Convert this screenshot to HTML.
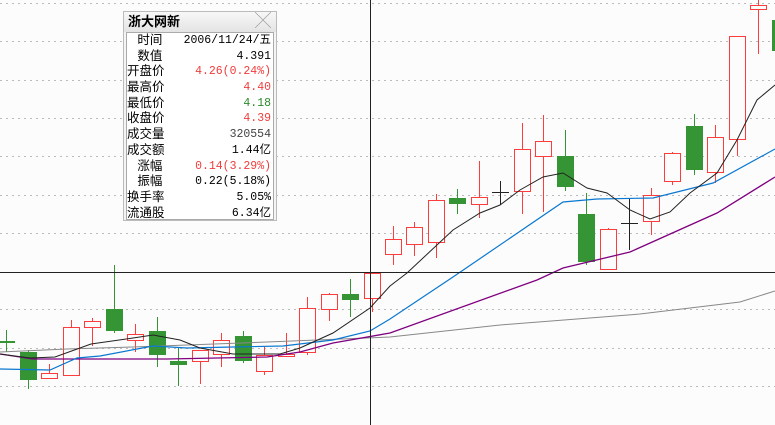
<!DOCTYPE html>
<html><head><meta charset="utf-8"><style>
body{margin:0;background:#fcfcfc;}
#w{position:relative;width:775px;height:425px;overflow:hidden;font-family:"Liberation Sans","Noto Sans CJK SC",sans-serif;}
#box{position:absolute;left:123px;top:11px;width:152px;height:208px;background:#f4f4f4;border:1px solid #bbb;}
#tt{height:20px;background:linear-gradient(#f8f8f8,#e4e4e4);font-weight:bold;font-size:13px;line-height:20px;padding-left:4px;color:#000;position:relative}
#tt span{position:absolute;right:5px;top:0;color:#999;font-weight:normal;font-size:16px}
#bd{position:absolute;left:2px;top:20px;width:146px;height:186px;background:#fff;border:1px solid #aaa;font-size:12.5px;}
.r{height:15.7px;line-height:15.7px;position:relative;white-space:nowrap}
.r b{font-weight:normal;position:absolute;left:0}
.r i{font-style:normal;position:absolute;right:2px;font-family:"Liberation Mono","Noto Sans CJK SC",monospace;font-size:11.5px}
.red{color:#f03c3c}.grn{color:#2a8a2a}
</style></head><body><div id="w">
<svg width="775" height="425" style="position:absolute;left:0;top:0">
<g stroke="#bbb" stroke-dasharray="2,4" stroke-width="1">
<line x1="0" x2="775" y1="3.5" y2="3.5"/><line x1="0" x2="775" y1="41.5" y2="41.5"/><line x1="0" x2="775" y1="80.5" y2="80.5"/><line x1="0" x2="775" y1="118.5" y2="118.5"/><line x1="0" x2="775" y1="156.5" y2="156.5"/><line x1="0" x2="775" y1="195.5" y2="195.5"/><line x1="0" x2="775" y1="233.5" y2="233.5"/><line x1="0" x2="775" y1="309.5" y2="309.5"/><line x1="0" x2="775" y1="348.5" y2="348.5"/><line x1="0" x2="775" y1="386.5" y2="386.5"/>
</g>
<g id="c"></g>
<g fill="none" stroke-width="1">
<polyline stroke="#888" points="0,352 67,349 133,347 267,342 390,337 500,325 640,314 740,302 775,291"/>
<polyline stroke="#800080" stroke-width="1.3" points="0,354 33,359 167,359 267,357 300,352 333,343 390,333 537,280 563,268 630,252 717,213 775,177"/>
<polyline stroke="#0a78d0" stroke-width="1.2" points="0,369 50,370 77,358 100,356 153,346 187,348 233,347 283,346 333,340 370,331 390,319 453,277 563,202 597,199 653,198 713,183 775,149"/>
<polyline stroke="#222" points="0,354 30,358 55,357 91,344 133,338 153,335 180,340 200,348 233,354 280,354 300,348 333,333 370,308 390,286 407,273 453,230 480,213 500,205 520,190 543,177 563,173 587,188 607,193 630,210 650,219 670,212 690,193 717,173 737,140 757,100 775,85"/>
</g>
<line x1="0" x2="775" y1="272.5" y2="272.5" stroke="#222"/>
<line x1="370.5" x2="370.5" y1="0" y2="425" stroke="#222"/>
</svg>
<div id="box"><div id="tt">浙大网新<span>╳</span></div>
<div id="bd">
<div class="r"><b>&nbsp;&nbsp;&nbsp;时间</b><i>2006/11/24/五</i></div>
<div class="r"><b>&nbsp;&nbsp;&nbsp;数值</b><i>4.391</i></div>
<div class="r"><b>开盘价</b><i class="red">4.26(0.24%)</i></div>
<div class="r"><b>最高价</b><i class="red">4.40</i></div>
<div class="r"><b>最低价</b><i class="grn">4.18</i></div>
<div class="r"><b>收盘价</b><i class="red">4.39</i></div>
<div class="r"><b>成交量</b><i style="color:#444">320554</i></div>
<div class="r"><b>成交额</b><i>1.44亿</i></div>
<div class="r"><b>&nbsp;&nbsp;&nbsp;涨幅</b><i class="red">0.14(3.29%)</i></div>
<div class="r"><b>&nbsp;&nbsp;&nbsp;振幅</b><i>0.22(5.18%)</i></div>
<div class="r"><b>换手率</b><i>5.05%</i></div>
<div class="r"><b>流通股</b><i>6.34亿</i></div>
</div></div>
</div>
<script>
var d=[[6,'g',341,343,330,352],[27.5,'g',352,380,350,389],[48.5,'r',373,378,364,378],[70.5,'r',327,375,320,375],[91.5,'r',321,327,318,346],[113.5,'g',309,331,265,333],[135,'r',334,340,324,352],[156.5,'g',331,355,317,367],[178,'g',361,365,348,386],[199.5,'r',350,361,350,384],[221,'r',340,354,333,367],[242.5,'g',336,361,331,363],[264,'r',355,371,347,375],[285.5,'r',354,356,333,357],[307,'r',308,352,297,355],[328.5,'r',294,309,293,321],[350,'g',294,300,279,317],[371.5,'r',273,298,272,312],[392.5,'r',239,254,226,265],[414,'r',227,244,222,256],[435.5,'r',200,242,194,258],[457,'g',198,204,189,214],[478.5,'r',197,204,161,218],[500,'k',192,192,181,205],[521.5,'r',149,191,123,214],[543,'r',141,156,115,212],[564.5,'g',156,187,130,191],[586,'g',214,262,193,265],[607.5,'r',229,269,228,269],[629,'k',223,223,199,250],[650.5,'r',195,221,188,235],[672,'r',153,181,152,185],[693.5,'g',126,170,114,175],[715,'r',137,172,125,183],[736.5,'r',36,139,36,156],[758,'r',5,9,0,54],[780,'g',20,51,10,55]];
var s='';d.forEach(function(c){var x=Math.round(c[0]),col=c[1]=='r'?'#ff3c3c':c[1]=='g'?'#359535':'#222';
s+='<line x1="'+(x+.5)+'" x2="'+(x+.5)+'" y1="'+c[4]+'" y2="'+c[5]+'" stroke="'+col+'"/>';
if(c[1]=='k'){s+='<line x1="'+(x-8)+'" x2="'+(x+9)+'" y1="'+(c[2]+.5)+'" y2="'+(c[2]+.5)+'" stroke="#222"/>';}
else if(c[1]=='r'){s+='<rect x="'+(x-7.5)+'" y="'+(c[2]+.5)+'" width="16" height="'+Math.max(1,c[3]-c[2])+'" fill="#fcfcfc" stroke="'+col+'"/>';}
else{s+='<rect x="'+(x-8)+'" y="'+c[2]+'" width="17" height="'+Math.max(2,c[3]-c[2])+'" fill="'+col+'"/>';}});
document.getElementById('c').innerHTML=s;
</script>
</body></html>
